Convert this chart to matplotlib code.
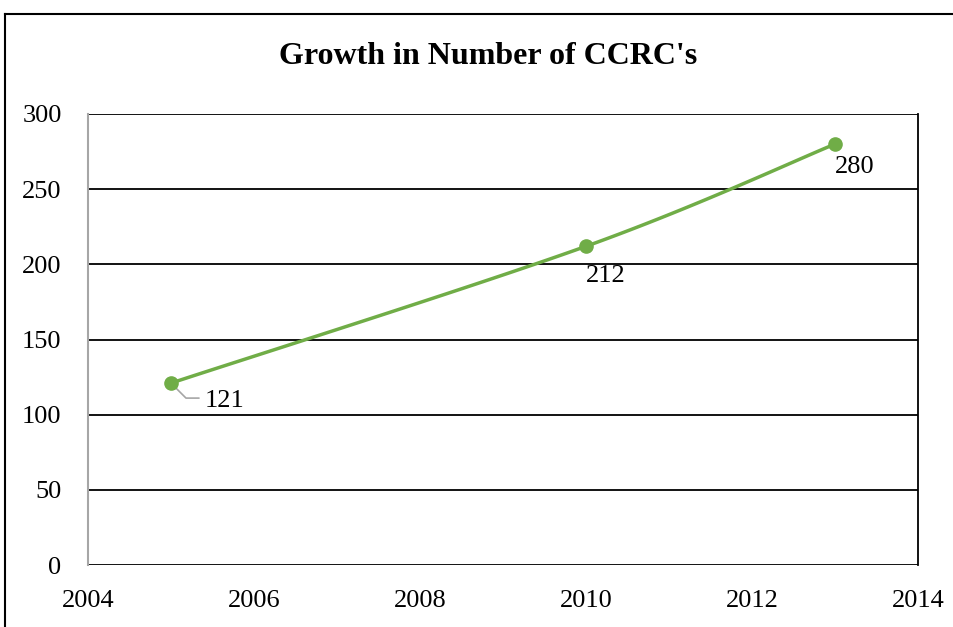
import numpy as np
import matplotlib
matplotlib.use("Agg")
import matplotlib.pyplot as plt
from matplotlib.lines import Line2D

plt.rcParams['font.family'] = ['Liberation Serif', 'DejaVu Serif']

# veriler
years = [2005, 2010, 2013]
ccrc_count = [121, 212, 280]
x_ticks = [2004, 2006, 2008, 2010, 2012, 2014]
y_ticks = [0, 50, 100, 150, 200, 250, 300]
green = "#70AD47"


def smooth_line(xs, ys, steps=60):
    # Excel tarzı yumuşatılmış çizgi (Bezier kontrol noktaları komşulardan)
    p = np.column_stack([xs, ys]).astype(float)
    p_ext = np.vstack([p[0], p, p[-1]])
    out = []
    for i in range(len(p) - 1):
        p0, p1, p2, p3 = p_ext[i], p_ext[i + 1], p_ext[i + 2], p_ext[i + 3]
        c1 = p1 + (p2 - p0) / 6
        c2 = p2 - (p3 - p1) / 6
        t = np.linspace(0, 1, steps)[:, None]
        seg = ((1 - t) ** 3) * p1 + 3 * ((1 - t) ** 2) * t * c1 + 3 * (1 - t) * t ** 2 * c2 + t ** 3 * p2
        out.append(seg)
    curve = np.vstack(out)
    return curve[:, 0], curve[:, 1]


fig = plt.figure(figsize=(9.54, 6.27), dpi=100)
ax = fig.add_axes([88 / 954, 1 - 565 / 627, 830 / 954, 451 / 627])

sx, sy = smooth_line(years, ccrc_count)
ax.plot(sx, sy, color=green, lw=2.5, solid_capstyle="round", zorder=3)
ax.plot(years, ccrc_count, "o", color=green, markersize=9.5, zorder=4)

ax.set_xlim(2004, 2014)
ax.set_ylim(0, 300)
ax.set_xticks(x_ticks)
ax.set_yticks(y_ticks)
ax.tick_params(length=0, labelsize=19)
ax.tick_params(axis="y", pad=19)
ax.tick_params(axis="x", pad=18)
ax.yaxis.grid(True, color="black", lw=1.3)
ax.set_axisbelow(True)

for s in ["top", "bottom"]:
    ax.spines[s].set_visible(False)
ax.spines["right"].set_color("black")
ax.spines["right"].set_linewidth(1.3)
ax.spines["left"].set_color("#A6A6A6")
ax.spines["left"].set_linewidth(1.5)

# değer etiketleri
offsets = [(54, -18), (20, -30), (20, -23)]
for x, y, (dx, dy) in zip(years, ccrc_count, offsets):
    ax.annotate(str(y), (x, y), xytext=(dx, dy), textcoords="offset pixels",
                ha="center", va="center", fontsize=19)

# 121 için kılavuz çizgi
ax.annotate("", (years[0], ccrc_count[0]), xytext=(28, -15), textcoords="offset pixels",
            arrowprops=dict(arrowstyle="-", color="#A6A6A6", lw=1.2,
                            connectionstyle="angle,angleA=0,angleB=-45,rad=0",
                            shrinkA=0, shrinkB=4))

fig.text(488 / 954, 1 - 56 / 627, "Growth in Number of CCRC's", ha="center", va="center",
         fontsize=23, fontweight="bold")

# dış çerçeve
fig.add_artist(Line2D([5 / 954, 1], [1 - 14 / 627] * 2, color="black", lw=1.5, transform=fig.transFigure))
fig.add_artist(Line2D([5 / 954] * 2, [0, 1 - 14 / 627], color="black", lw=1.5, transform=fig.transFigure))

fig.savefig("out.png", dpi=100)
